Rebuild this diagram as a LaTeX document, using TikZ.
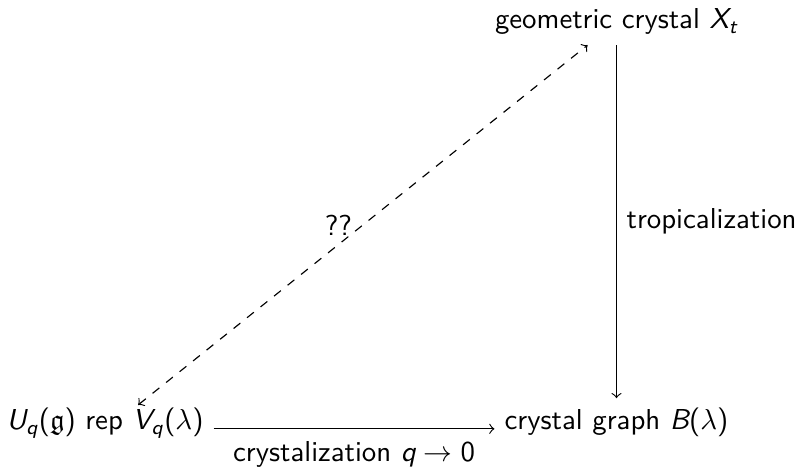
\documentclass[tikz,border=0pt]{standalone}
\usepackage{amsmath}
\usepackage{amssymb}
\newcommand{\sv}[1]{\textsl{#1}}
\newcommand{\tp}[1]{\textup{#1}}
\begin{document}
\begin{tikzpicture}[x=0.347pt,y=-0.347pt,
  font=\sffamily,
  every node/.style={inner sep=3.33pt},
  arr/.style={->, line width=0.4pt}]
\useasboundingbox (0,0) rectangle (801,467);
\node[anchor=base] (geo) at (616.5,29) {geometric crystal $\sv{X}_{\sv{t}}$};
\node[anchor=base] (bl) at (105,430) {$\sv{U}_{\sv{q}}\tp{(}\mathfrak{g}\tp{)}$ rep $\sv{V}_{\sv{q}}\tp{(}\lambda\tp{)}$};
\node[anchor=base] (br) at (616.5,430) {crystal graph $\sv{B}\tp{(}\lambda\tp{)}$};
\draw[arr] (geo.south) -- node[right] (trop) {tropicalization} (br.north);
\draw[arr] ([yshift=0.4pt]bl.base east) -- node[below, yshift=-0.8pt] (cq) {crystalization $\sv{q}\to \tp{0}$} ([yshift=0.4pt]br.base west);
\draw[<->, dashed, shorten <=14.7pt] ([yshift=-0.5pt]bl.base) -- node[pos=0.533, left] (qq) {??} (geo);
\end{tikzpicture}
\end{document}
